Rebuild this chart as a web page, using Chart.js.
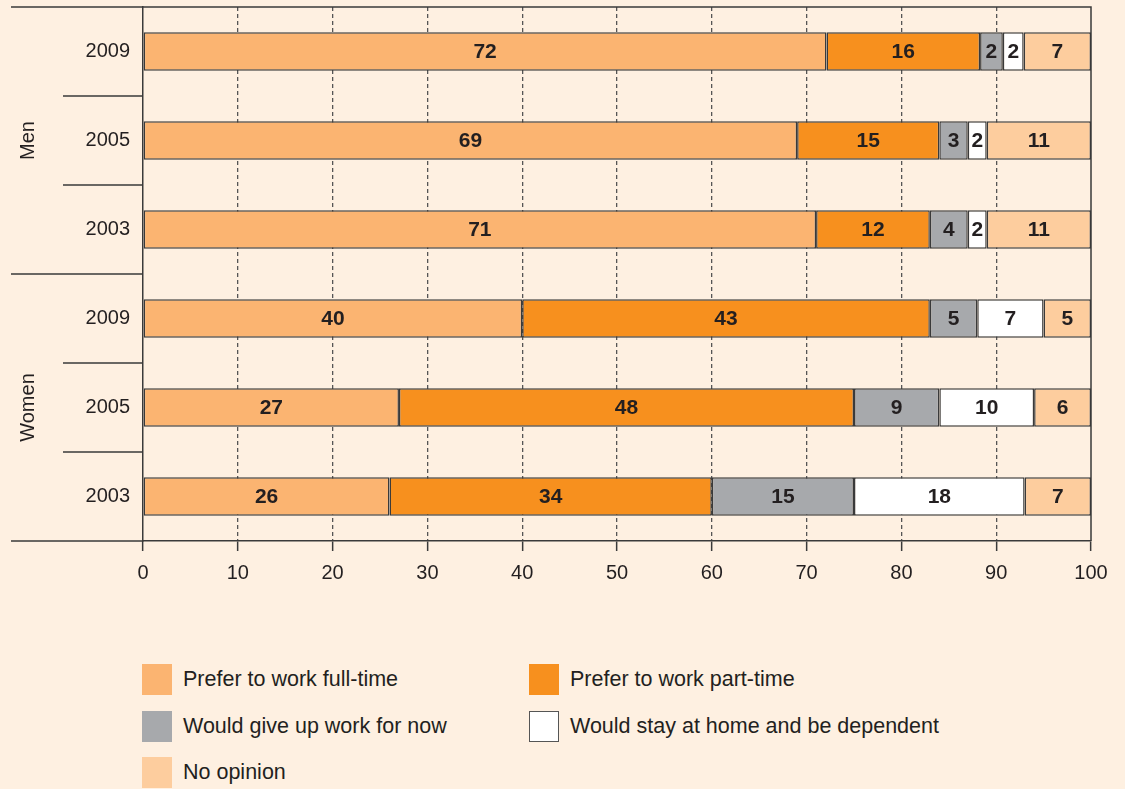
<!DOCTYPE html>
<html>
<head>
<meta charset="utf-8">
<script src="https://cdn.jsdelivr.net/npm/chart.js@4.4.1/dist/chart.umd.min.js"></script>
<style>
body { margin: 0; background: #fef0e1; font-family: "Liberation Sans", Arial, sans-serif; }
#wrap { position: relative; width: 1125px; height: 789px; overflow: hidden; }
#chart { position: absolute; left: 0; top: 0; }
.leg { position: absolute; display: flex; align-items: center; height: 31px; font-size: 21.5px; color: #231f20; white-space: nowrap; }
.leg .box { width: 30px; height: 31px; margin-right: 11px; box-sizing: border-box; }
</style>
</head>
<body>
<div id="wrap">
  <canvas id="chart" width="1125" height="600"></canvas>
  <div id="legend"></div>
</div>
<script>
// categorias (de arriba a abajo)
var years = ['2009', '2005', '2003', '2009', '2005', '2003'];
var groups = ['Men', 'Women'];

var seriesNames = [
    'Prefer to work full-time',
    'Prefer to work part-time',
    'Would give up work for now',
    'Would stay at home and be dependent',
    'No opinion'
];
var seriesColors = ['#fbb471', '#f7901e', '#a7a9ac', '#ffffff', '#fdcd9e'];

// valores en %
var fullTime  = [72.1, 69, 71, 40, 27, 26];
var partTime  = [16.2, 15, 12, 43, 48, 34];
var giveUp    = [2.4, 3, 4, 5, 9, 15];
var stayHome  = [2.2, 2, 2, 7, 10, 18];
var noOpinion = [7.1, 11, 11, 5, 6, 7];

var xTicks = [0, 10, 20, 30, 40, 50, 60, 70, 80, 90, 100];

var lineCol = '#3a3a3a';
var textCol = '#231f20';
var fuente = '"Liberation Sans", Arial, sans-serif';

var allSeries = [fullTime, partTime, giveUp, stayHome, noOpinion];

var datasets = allSeries.map(function(vals, i) {
    return {
        label: seriesNames[i],
        data: vals,
        backgroundColor: seriesColors[i],
        borderColor: lineCol,
        borderWidth: 1.5,
        borderSkipped: false,
        barPercentage: 0.43,
        categoryPercentage: 1
    };
});

// etiquetas dentro de las barras
var etiquetasPlugin = {
    id: 'etiquetas',
    afterDatasetsDraw: function(chart) {
        var ctx = chart.ctx;
        ctx.save();
        ctx.font = 'bold 21px ' + fuente;
        ctx.fillStyle = textCol;
        ctx.textAlign = 'center';
        ctx.textBaseline = 'middle';
        chart.data.datasets.forEach(function(ds, i) {
            chart.getDatasetMeta(i).data.forEach(function(bar, j) {
                var cx = (bar.x + bar.base) / 2;
                ctx.fillText(Math.round(ds.data[j]), cx, bar.y + 1);
            });
        });
        ctx.restore();
    }
};

// marco, separadores y Men / Women
var marcoPlugin = {
    id: 'marco',
    afterDraw: function(chart) {
        var ctx = chart.ctx, a = chart.chartArea, ys = chart.scales.y;
        var porGrupo = years.length / groups.length;
        ctx.save();
        ctx.strokeStyle = lineCol;
        ctx.lineWidth = 1.5;
        ctx.beginPath();
        ctx.moveTo(11, a.top);
        ctx.lineTo(a.right, a.top);
        ctx.lineTo(a.right, a.bottom);
        ctx.moveTo(11, a.bottom);
        ctx.lineTo(a.left, a.bottom);
        for (var i = 1; i < years.length; i++) {
            var y = (ys.getPixelForValue(i - 1) + ys.getPixelForValue(i)) / 2;
            var x0 = (i % porGrupo == 0) ? 11 : 63;
            ctx.moveTo(x0, y);
            ctx.lineTo(a.left, y);
        }
        ctx.stroke();

        ctx.fillStyle = textCol;
        ctx.font = '20px ' + fuente;
        ctx.textAlign = 'center';
        ctx.textBaseline = 'middle';
        groups.forEach(function(g, k) {
            var yc = ys.getPixelForValue(k * porGrupo + (porGrupo - 1) / 2);
            ctx.save();
            ctx.translate(28, yc);
            ctx.rotate(-Math.PI / 2);
            ctx.fillText(g, 0, 0);
            ctx.restore();
        });
        ctx.restore();
    }
};

var ctx = document.getElementById('chart').getContext('2d');
new Chart(ctx, {
    type: 'bar',
    data: { labels: years, datasets: datasets },
    options: {
        indexAxis: 'y',
        responsive: false,
        animation: false,
        devicePixelRatio: 1,
        layout: { padding: { top: 7, right: 34, left: 0, bottom: 0 } },
        plugins: {
            legend: { display: false },
            tooltip: { enabled: false }
        },
        scales: {
            x: {
                stacked: true,
                min: 0,
                max: 100,
                afterBuildTicks: function(scale) {
                    scale.ticks = xTicks.map(function(v) { return { value: v }; });
                },
                afterFit: function(scale) { scale.height = 59; },
                grid: {
                    color: function(c) {
                        var v = c.tick ? c.tick.value : null;
                        return (v === 0 || v === 100) ? 'rgba(0,0,0,0)' : '#555555';
                    },
                    lineWidth: 1.3,
                    drawTicks: true,
                    tickLength: 10,
                    tickColor: lineCol,
                    tickWidth: 1.5,
                    tickBorderDash: []
                },
                border: { display: true, color: lineCol, width: 1.5, dash: [4, 3] },
                ticks: {
                    color: textCol,
                    font: { family: fuente, size: 20 },
                    padding: 10,
                    maxRotation: 0
                }
            },
            y: {
                stacked: true,
                afterFit: function(scale) {
                    scale.width = 143;
                    scale.paddingTop = 0;
                    scale.paddingBottom = 0;
                },
                grid: { display: false, drawTicks: false },
                border: { display: true, color: lineCol, width: 1.5 },
                ticks: {
                    color: textCol,
                    font: { family: fuente, size: 20 },
                    padding: 13
                }
            }
        }
    },
    plugins: [etiquetasPlugin, marcoPlugin]
});

// leyenda en html
var leyenda = document.getElementById('legend');
seriesNames.forEach(function(nombre, i) {
    var col = i % 2, fila = Math.floor(i / 2);
    var item = document.createElement('div');
    item.className = 'leg';
    item.style.left = (142 + col * 387) + 'px';
    item.style.top = (664 + fila * 46.5) + 'px';
    var caja = document.createElement('span');
    caja.className = 'box';
    caja.style.background = seriesColors[i];
    if (seriesColors[i] == '#ffffff') caja.style.border = '1.5px solid #555';
    var txt = document.createElement('span');
    txt.textContent = nombre;
    item.appendChild(caja);
    item.appendChild(txt);
    leyenda.appendChild(item);
});
</script>
</body>
</html>
